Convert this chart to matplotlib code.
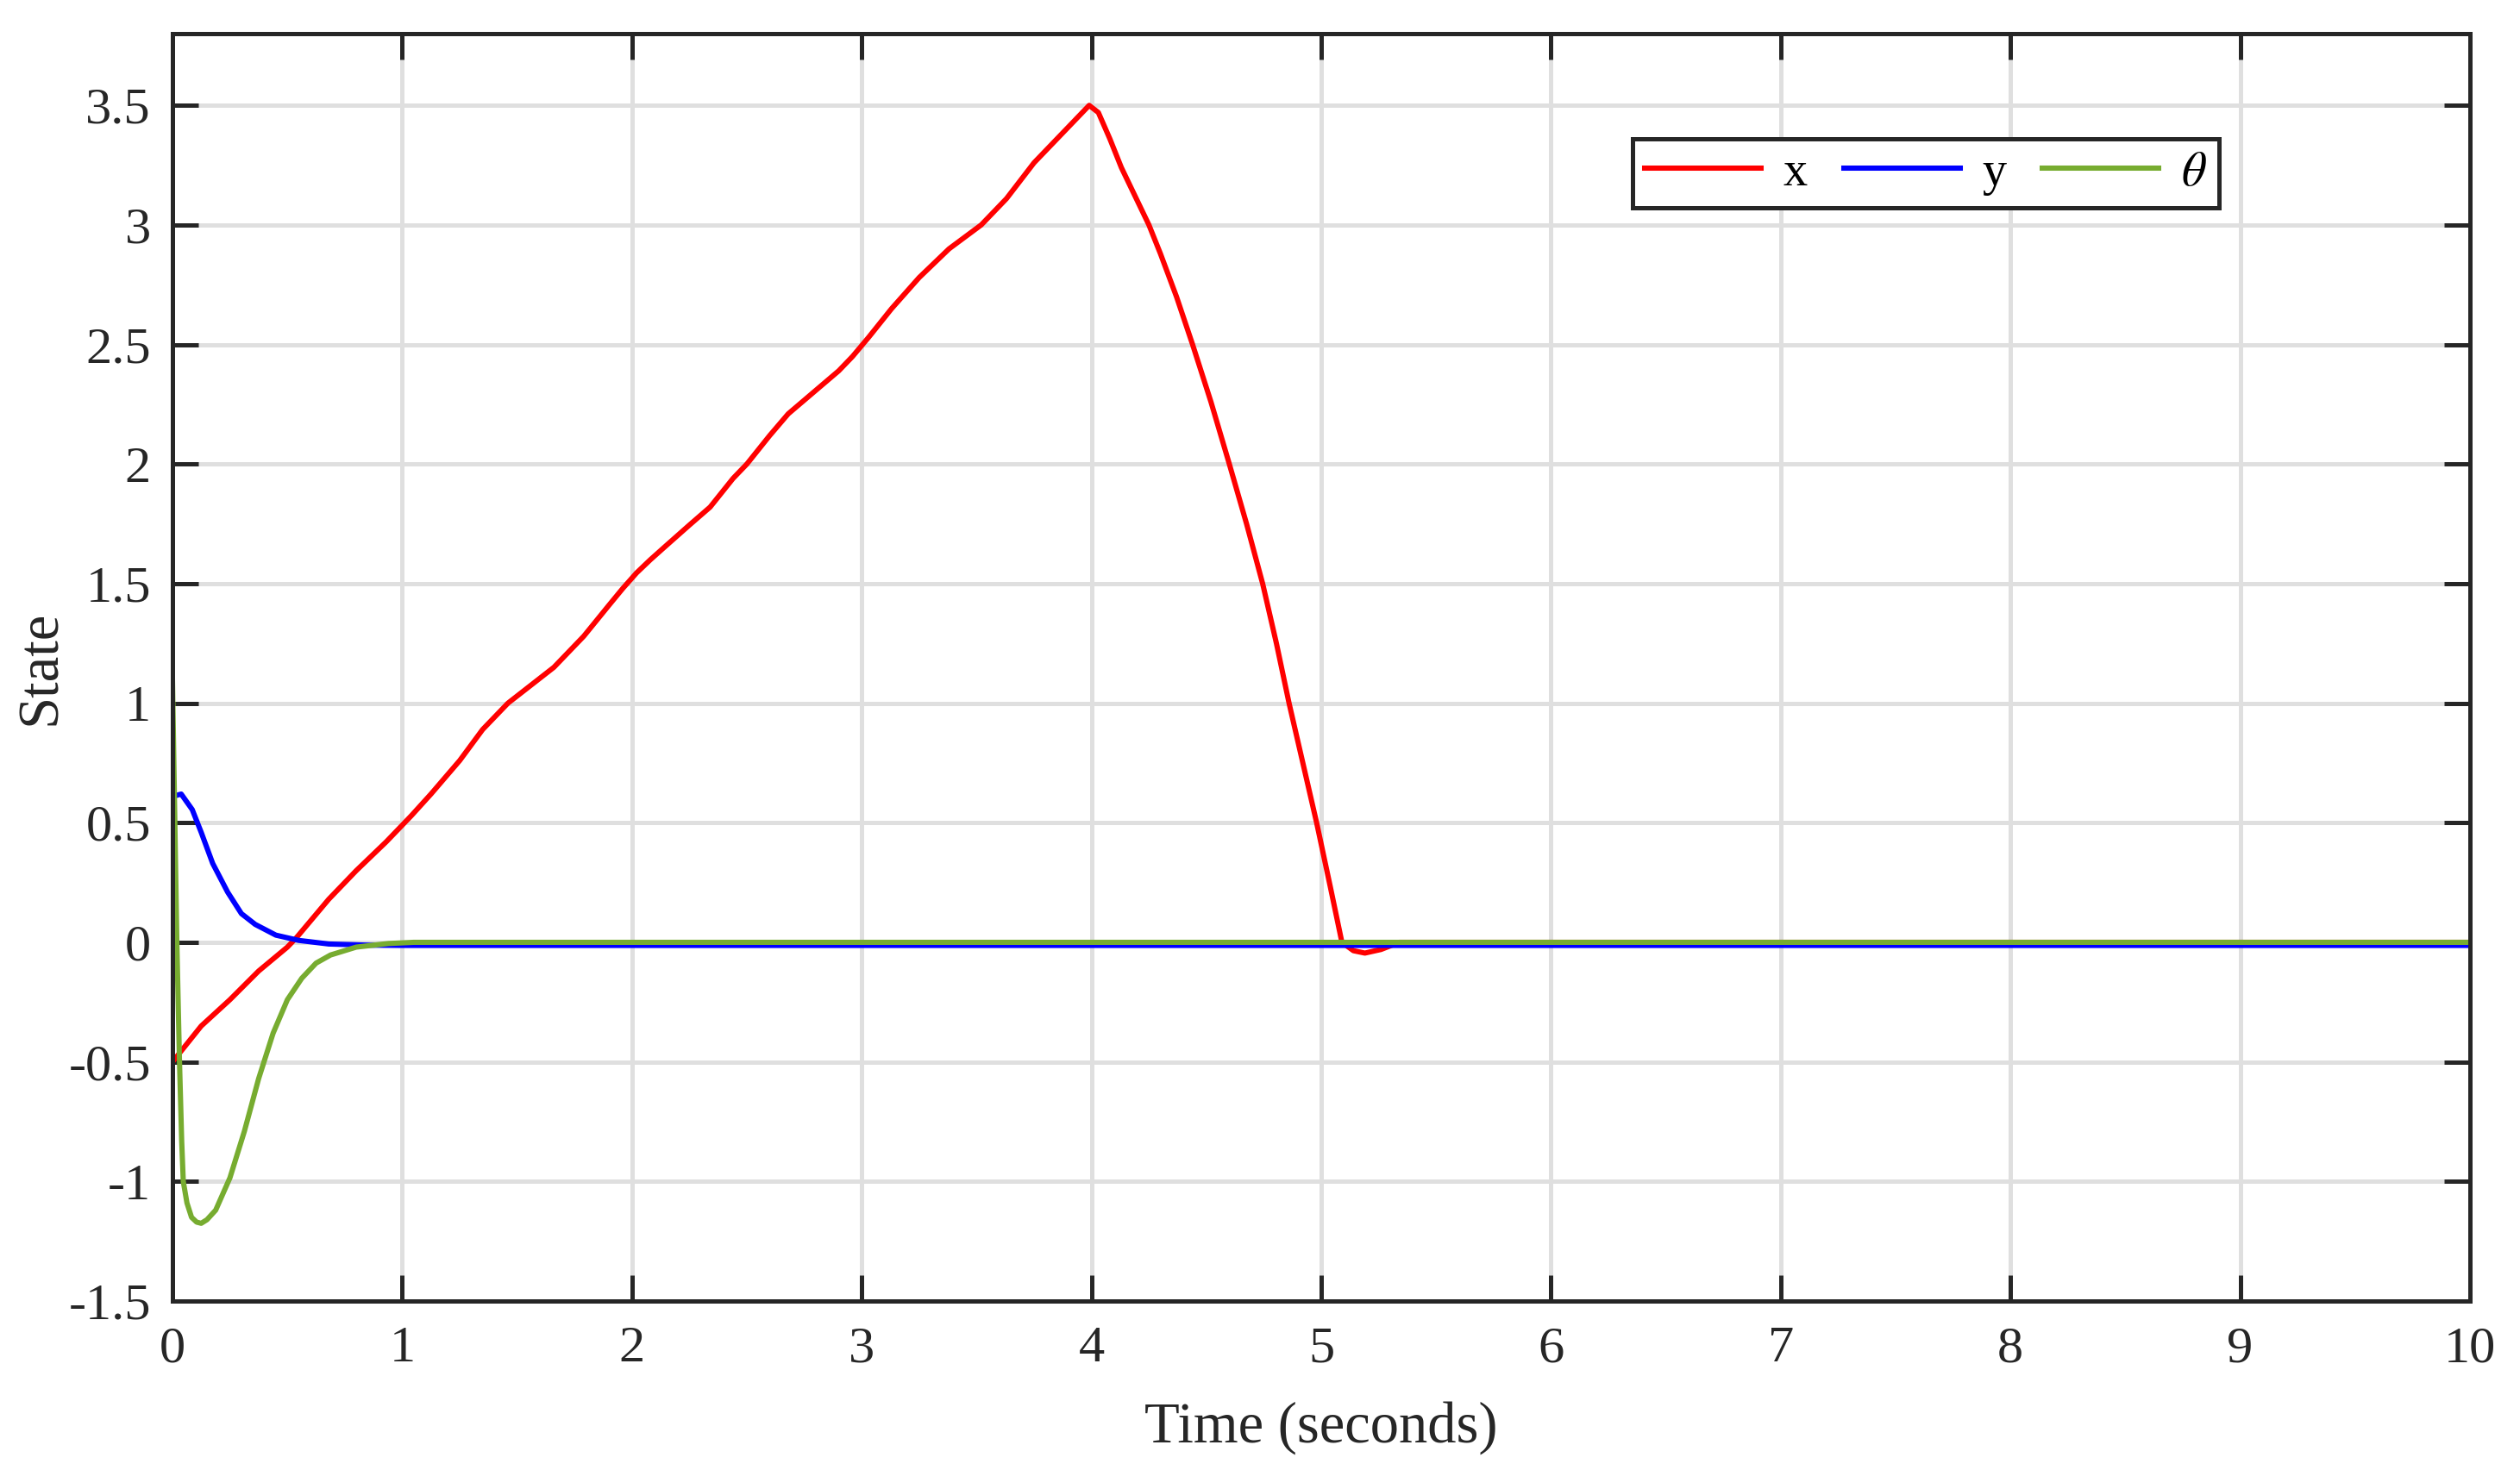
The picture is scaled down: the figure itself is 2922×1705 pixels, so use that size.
import numpy as np
import matplotlib
matplotlib.use("Agg")
import matplotlib.pyplot as plt

# values
t_x = [0, 0.125, 0.25, 0.375, 0.5, 0.54, 0.68, 0.8, 0.93, 1.04, 1.125, 1.25, 1.35, 1.46,
       1.56, 1.66, 1.79, 1.9, 1.96, 2.02, 2.08, 2.15, 2.25, 2.34, 2.44, 2.5, 2.6, 2.68, 2.79,
       2.9, 2.96, 3.03, 3.13, 3.25, 3.38, 3.52, 3.63, 3.75, 3.88, 3.99, 4.03, 4.08, 4.13,
       4.2, 4.25, 4.3, 4.37, 4.44, 4.52, 4.6, 4.675, 4.745, 4.805, 4.86, 4.92, 4.98, 5.04,
       5.09, 5.14, 5.19, 5.26, 5.34, 10]
x_state = [-0.5, -0.35, -0.24, -0.12, -0.02, 0.02, 0.18, 0.30, 0.42, 0.53, 0.62, 0.76, 0.89, 1.0,
           1.075, 1.15, 1.28, 1.41, 1.48, 1.545, 1.60, 1.66, 1.745, 1.82, 1.94, 2.0, 2.12, 2.21,
           2.30, 2.39, 2.45, 2.53, 2.65, 2.78, 2.90, 3.0, 3.11, 3.26, 3.39, 3.50, 3.47, 3.36, 3.24,
           3.1, 3.0, 2.88, 2.70, 2.5, 2.26, 2.0, 1.75, 1.5, 1.25, 1.0, 0.75, 0.5, 0.23,
           0.0, -0.035, -0.045, -0.03, 0.0, 0.0]

t_y = [0, 0.038, 0.086, 0.125, 0.175, 0.24, 0.30, 0.36, 0.45, 0.55, 0.68, 0.86, 1.0, 10]
y_state = [0.61, 0.62, 0.555, 0.46, 0.33, 0.21, 0.12, 0.075, 0.03, 0.008, -0.007, -0.012, -0.013, -0.013]

t_th = [0, 0.019, 0.03, 0.04, 0.047, 0.063, 0.083, 0.105, 0.125, 0.15, 0.188, 0.25, 0.313,
        0.375, 0.438, 0.5, 0.563, 0.625, 0.688, 0.8, 0.94, 1.05, 10]
th_state = [1.1, 0.0, -0.48, -0.83, -1.0, -1.09, -1.15, -1.17, -1.175, -1.16, -1.12, -0.985, -0.79,
            -0.57, -0.38, -0.24, -0.15, -0.087, -0.053, -0.02, -0.005, 0.0, 0.0]

x_ticks = list(range(0, 11))
y_ticks = [-1.5, -1, -0.5, 0, 0.5, 1, 1.5, 2, 2.5, 3, 3.5]

plt.rcParams['font.family'] = ['Liberation Serif', 'DejaVu Serif']
plt.rcParams['mathtext.fontset'] = 'stix'
plt.rcParams['axes.unicode_minus'] = False

W, H = 2922, 1705
fig = plt.figure(figsize=(W / 300, H / 300), dpi=300)
ax = fig.add_axes([200 / W, 1 - 1509 / H, 2664 / W, 1470 / H])

ax.plot(t_x, x_state, color='#FF0000', lw=1.45, label='x')
ax.plot(t_y, y_state, color='#0000FF', lw=1.45, label='y')
ax.plot(t_th, th_state, color='#77AC30', lw=1.45, label=r'$\theta$')

ax.set_xlim(0, 10)
ax.set_ylim(-1.5, 3.8)
ax.set_xticks(x_ticks)
ax.set_yticks(y_ticks)
ax.set_yticklabels(['%g' % v for v in y_ticks])
ax.grid(True, color='#DFDFDF', lw=1.2)
ax.set_axisbelow(True)

for s in ax.spines.values():
    s.set_color('#262626')
    s.set_linewidth(1.2)
ax.tick_params(axis='both', direction='in', length=7.2, width=1.2, color='#262626',
               labelsize=14.5, labelcolor='#262626', top=True, right=True)
ax.tick_params(axis='y', pad=6)
ax.tick_params(axis='x', pad=7)

ax.set_xlabel('Time (seconds)', fontsize=16, color='#262626')
ax.set_ylabel('State', fontsize=16, color='#262626')
ax.xaxis.set_label_coords(0.5, -0.079)
ax.yaxis.set_label_coords(-0.0458, 0.5)

leg = ax.legend(loc='upper left', bbox_to_anchor=(0.6355, 0.917), borderaxespad=0,
                ncol=3, fontsize=13.5, handlelength=2.4, handletextpad=0.45,
                columnspacing=0.75, borderpad=0.25, fancybox=False, framealpha=1)
leg.get_frame().set_edgecolor('#262626')
leg.get_frame().set_linewidth(1.2)

fig.savefig('out.png', dpi=300, facecolor='white')
